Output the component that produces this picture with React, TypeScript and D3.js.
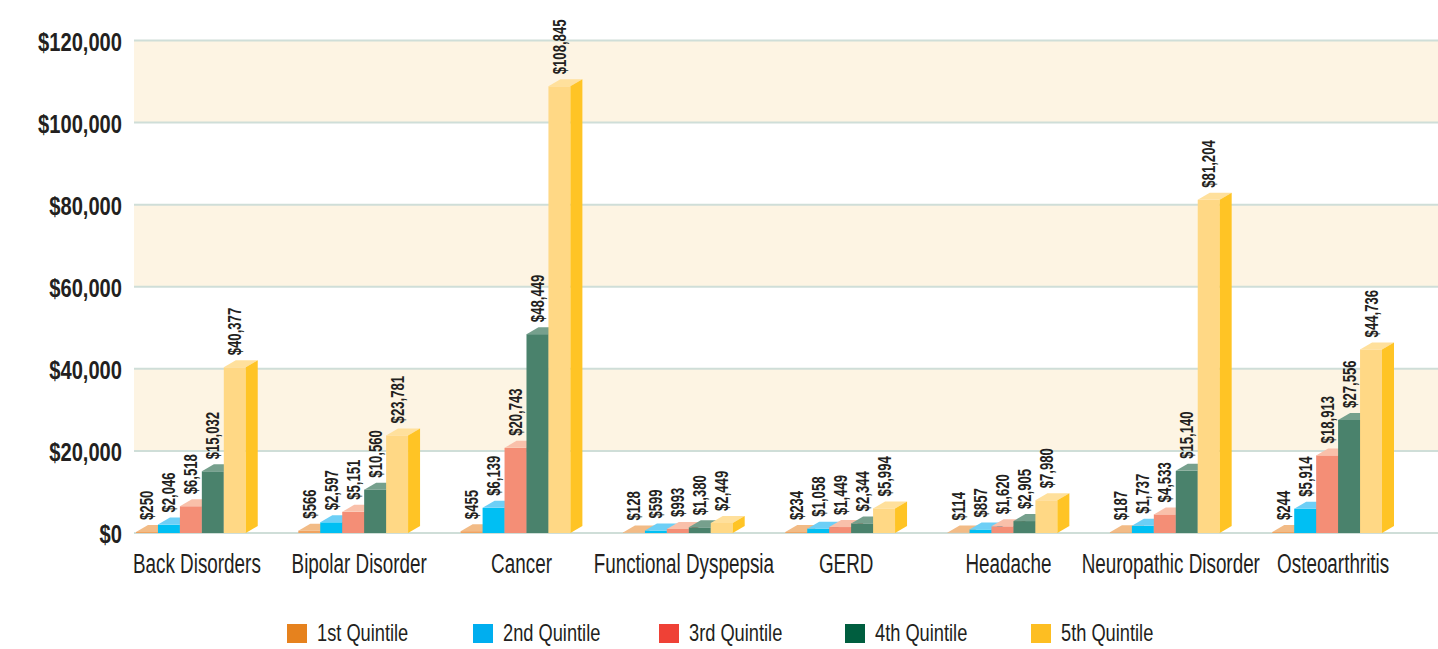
import React from 'react';
import * as d3 from 'd3';

const categories = [
  'Back Disorders',
  'Bipolar Disorder',
  'Cancer',
  'Functional Dyspepsia',
  'GERD',
  'Headache',
  'Neuropathic Disorder',
  'Osteoarthritis',
];

const quintiles = ['1st Quintile', '2nd Quintile', '3rd Quintile', '4th Quintile', '5th Quintile'];

const q1 = [250, 566, 455, 128, 234, 114, 187, 244];
const q2 = [2046, 2597, 6139, 599, 1058, 857, 1737, 5914];
const q3 = [6518, 5151, 20743, 993, 1449, 1620, 4533, 18913];
const q4 = [15032, 10560, 48449, 1380, 2344, 2905, 15140, 27556];
const q5 = [40377, 23781, 108845, 2449, 5994, 7980, 81204, 44736];

const yTicks = [0, 20000, 40000, 60000, 80000, 100000, 120000];

const series = [q1, q2, q3, q4, q5];

// front / top / side colours per quintile
const faceColors = [
  { front: '#F0A360', top: '#F2BB86', side: '#E38A3C' },
  { front: '#00BFF3', top: '#6DCFF6', side: '#0098C8' },
  { front: '#F48E76', top: '#F9C0AA', side: '#D96E58' },
  { front: '#4A826C', top: '#76A08D', side: '#356551' },
  { front: '#FFD885', top: '#FFE09C', side: '#FFC425' },
];
const legendColors = ['#E6821E', '#00AEEF', '#EF4136', '#005E3F', '#FDBE22'];

const W = 1438;
const H = 649;
// no narrow font installed, so Liberation Sans (Arial metrics) is squeezed horizontally
const FONT = '"Liberation Sans", Arial, sans-serif';
const INK = '#231F20';
const depthX = 12;
const depthY = 7;

const fmt = (v: number) => '$' + d3.format(',')(v);

export default function App() {
  const y = d3.scaleLinear().domain([0, 120000]).range([533, 40.5]);
  const x0 = d3.scaleBand().domain(categories).range([136, 1394]).paddingInner(0.25).paddingOuter(0);
  const x1 = d3.scaleBand().domain(quintiles).range([0, x0.bandwidth() - depthX]);
  const legendX = d3.scaleBand().domain(quintiles).range([287, 287 + 186 * 5]);

  const bandPairs = d3.pairs(yTicks).filter((_, i) => i % 2 === 1);

  return (
    <svg width={W} height={H} style={{ position: 'absolute', left: 0, top: 0, background: '#fff' }} fontFamily={FONT}>
      {/* alternating bands */}
      {bandPairs.map(([a, b]) => (
        <rect key={a} x={134} y={y(b)} width={W - 134} height={y(a) - y(b)} fill="#FDF4E3" />
      ))}
      {/* grid lines */}
      {yTicks.map((t) => (
        <line key={t} x1={134} x2={W} y1={y(t)} y2={y(t)} stroke="#CFDED8" strokeWidth={2} />
      ))}
      {/* y labels */}
      {yTicks.map((t) => (
        <text
          key={t}
          transform={`translate(122,${y(t) + 10}) scale(0.76,1)`}
          textAnchor="end"
          fontSize={26.5}
          fontWeight="bold"
          fill={INK}
        >
          {fmt(t)}
        </text>
      ))}

      {/* bars */}
      {categories.map((cat, ci) => {
        const gx = x0(cat) || 0;
        const w = x1.bandwidth();
        return (
          <g key={cat}>
            {quintiles.map((q, qi) => {
              const v = series[qi][ci];
              const bx = gx + (x1(q) || 0);
              const yv = y(v);
              const y0 = y(0);
              const c = faceColors[qi];
              const top = `M${bx},${yv}L${bx + w},${yv}L${bx + w + depthX},${yv - depthY}L${bx + depthX},${yv - depthY}Z`;
              const side = `M${bx + w},${yv}L${bx + w + depthX},${yv - depthY}L${bx + w + depthX},${y0 - depthY}L${bx + w},${y0}Z`;
              return (
                <g key={q}>
                  <rect x={bx} y={yv} width={w} height={y0 - yv} fill={c.front} />
                  <path d={top} fill={c.top} />
                  <path d={side} fill={c.side} />
                </g>
              );
            })}
            {quintiles.map((q, qi) => {
              const v = series[qi][ci];
              const cx = gx + (x1(q) || 0) + w / 2;
              const ty = y(v) - depthY - 5;
              return (
                <text
                  key={q}
                  transform={`translate(${cx + 6.5},${ty}) rotate(-90) scale(0.73,1)`}
                  fontSize={18}
                  fontWeight="bold"
                  fill={INK}
                >
                  {fmt(v)}
                </text>
              );
            })}
            <text
              transform={`translate(${gx + x0.bandwidth() / 2},573) scale(0.674,1)`}
              textAnchor="middle"
              fontSize={28}
              fill={INK}
            >
              {cat}
            </text>
          </g>
        );
      })}

      {/* legend */}
      {quintiles.map((q, qi) => {
        const lx = legendX(q) || 0;
        return (
          <g key={q}>
            <rect x={lx} y={624} width={20} height={19} fill={legendColors[qi]} />
            <text transform={`translate(${lx + 30},641) scale(0.77,1)`} fontSize={23.7} fill={INK}>
              {q}
            </text>
          </g>
        );
      })}
    </svg>
  );
}
